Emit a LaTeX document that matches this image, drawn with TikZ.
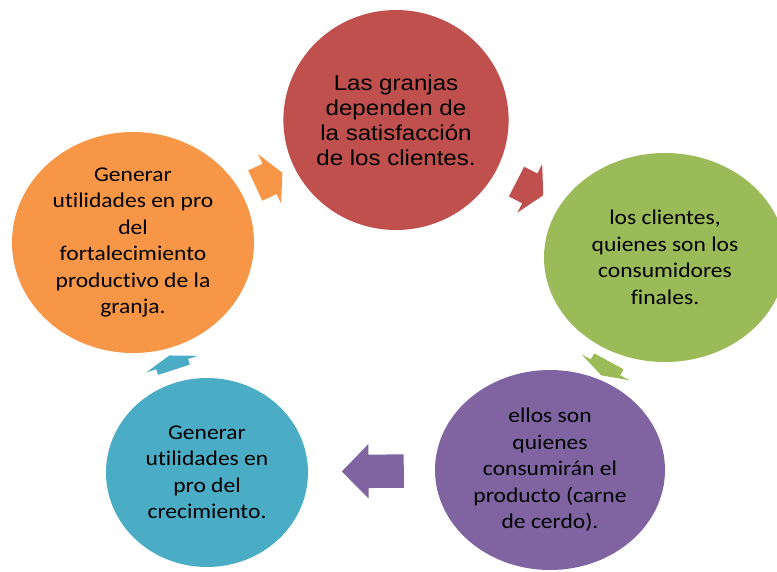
\documentclass[tikz,border=0pt]{standalone}
\usepackage{fontspec}
\setmainfont{Carlito}[FakeStretch=1.12,Ligatures=CommonOff]
\newfontfamily\arialfont{Liberation Sans}[FakeStretch=1.12]
\usetikzlibrary{shapes.geometric,shapes.arrows}

\definecolor{granjared}{HTML}{C0504D}
\definecolor{clientegreen}{HTML}{9BBB59}
\definecolor{consumopurple}{HTML}{8064A2}
\definecolor{crecteal}{HTML}{4BACC6}
\definecolor{fortorange}{HTML}{F79646}

\tikzset{
  bubble/.style={ellipse, inner sep=0pt, align=center,
    font=\fontsize{21}{26.5}\selectfont},
  cycarrow/.style={single arrow, draw=none, inner xsep=0pt, inner ysep=16.5pt,
    minimum width=0pt, single arrow head extend=10.5pt, sloped, allow upside down}
}

\begin{document}
\begin{tikzpicture}[x=1pt,y=-1pt]
            \useasboundingbox (0,0) rectangle (777,571);

            % The five steps of the cycle
            \node [bubble, fill=granjared, minimum width=222pt, minimum height=220pt,
              font=\arialfont\fontsize{21.5}{25}\selectfont] (granjas) at (396,120)
              {Las granjas\\dependen de\\la satisfacción\\de los clientes.};
            \node [bubble, fill=clientegreen, minimum width=242pt, minimum height=209pt]
              (clientes) at (665,257.5)
              {los clientes,\\quienes son los\\consumidores\\finales.};
            \node [bubble, fill=consumopurple, minimum width=230pt, minimum height=200pt]
              (consumo) at (550,470)
              {ellos son\\quienes\\consumirán el\\producto (carne\\de cerdo).};
            \node [bubble, fill=crecteal, minimum width=202pt, minimum height=189pt]
              (crecimiento) at (207,472.5)
              {Generar\\utilidades en\\pro del\\crecimiento.};
            \node [bubble, fill=fortorange, minimum width=242pt, minimum height=221pt]
              (fortalecimiento) at (133,242.5)
              {Generar\\utilidades en pro\\del\\fortalecimiento\\productivo de la\\granja.};

            % Block arrows half way between neighbours
            \path (fortalecimiento) -- node [cycarrow, fill=fortorange, minimum height=30pt,
              single arrow tip angle=125, pos=0.45] (a1) {} (granjas);
            \path (granjas) -- node [cycarrow, fill=granjared, minimum height=30pt,
              single arrow tip angle=122, pos=0.46] (a2) {} (clientes);
            \path (clientes) -- node [cycarrow, fill=clientegreen, minimum height=16pt,
              single arrow tip angle=143] (a3) {} (consumo);
            \path (consumo) -- node [cycarrow, fill=consumopurple, minimum height=62pt,
              single arrow tip angle=91, pos=0.425] (a4) {} (crecimiento);
            \path (crecimiento) -- node [cycarrow, fill=crecteal, minimum height=15pt,
              single arrow tip angle=143] (a5) {} (fortalecimiento);
\end{tikzpicture}
\end{document}
